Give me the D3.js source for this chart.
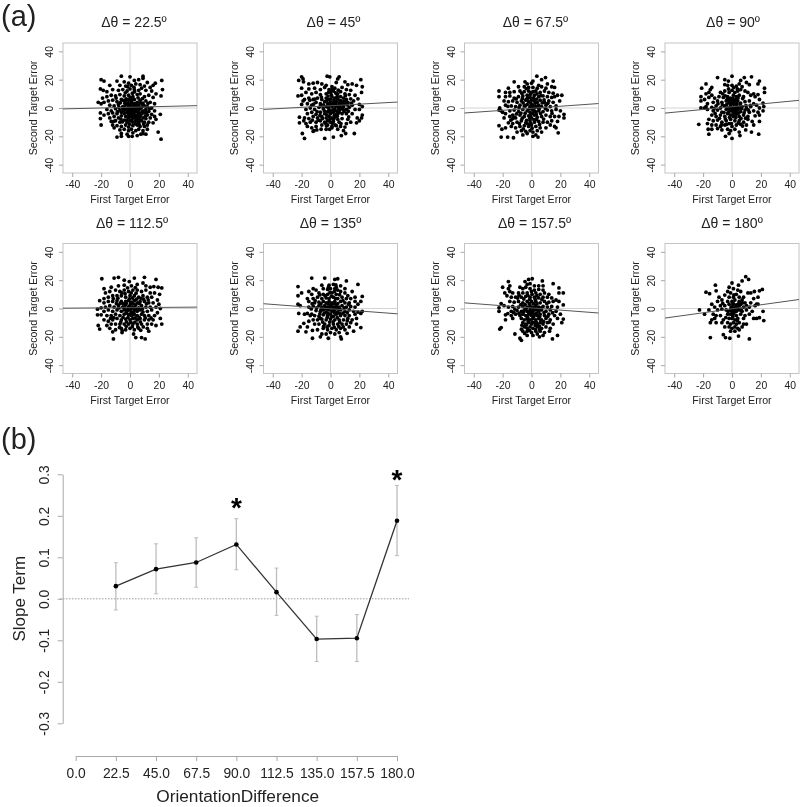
<!DOCTYPE html>
<html>
<head>
<meta charset="utf-8">
<script src="https://cdn.jsdelivr.net/npm/d3@7"></script>
<style>
  body { margin: 0; background: #fff; }
  svg { filter: blur(0.35px); }
  text { font-family: "Liberation Sans", Arial, sans-serif; fill: #222; }
</style>
</head>
<body>
<script>
// points as [first target error, second target error]
var pts225 = [[-20,20],[-18,19],[-6,22.5],[0,22],[9,22.5],[9,21],[22,19.5],[17.5,17.5],[16,16],[-20.5,13.5],[-18.5,12.5],[22.5,13],[21.5,8.5],[-22,4],[-20,3],[-18,4],[-20.5,-3.5],[-18,-5],[-20.5,-7.5],[-20,-12],[19.5,-17],[21.5,-22],[-9,-20.5],[-6,-20],[-2,-18.5],[1.5,-20],[7.5,-18.5],[11,-18.5],[21,-4.5],[18,-8],
[-9,19],[-4,18.5],[-1,17.5],[3,19.5],[6,20],[12,18],[-14,16],[-7,16],[-3,15.5],[1,16],[4,17],[7,16.5],[10,15.5],[14,14.5],[-16,11.5],[-12,13],[-8,12.5],[-5,13],[-2,12],[0,13.5],[3,13],[6,12.5],[8,14],[11,12.5],[15,12],[18,10],
[-16,8],[-13,9],[-10,8.5],[-7,9.5],[-4,8.5],[-1,9],[2,8],[5,9.5],[7,10],[10,8],[13,9],[16,7.5],[-19,7],[-15,5],[-12,5.5],[-9,4.5],[-6,6],[-3,5],[-1,5.5],[1,4.5],[3,6],[5,4],[7,5.5],[9,3.5],[11,5],[14,4],[17,3],[-14,2],[-11,1.5],[-8,2.5],[-5,1],[-3,2.5],[-1,1],[0,2.5],[2,1],[3,3],[4,1.5],[6,2],[8,0.5],[10,1.5],[12,1],[15,0],[-16,-1],[-13,-2],[-10,-0.5],[-7,-1.5],[-5,-0.5],[-3,-1],[-1,-0.5],[0,-1.5],[1,0],[2,-1],[3,-0.5],[4,-2],[5,-0.5],[6,-1.5],[7,-0.5],[9,-2],[11,-1],[13,-2.5],[17,-2],[-15,-4],[-12,-3.5],[-9,-4],[-6,-3],[-4,-4],[-2,-3],[-1,-4.5],[1,-3],[2,-4],[3,-3],[4,-5],[6,-3.5],[8,-4],[10,-3.5],[12,-5],[15,-4.5],[-14,-7],[-11,-6],[-8,-7],[-6,-5.5],[-3,-6],[-1,-7],[1,-6],[3,-7],[5,-6.5],[7,-6],[9,-7],[11,-7.5],[14,-7],[17,-6],[-13,-9.5],[-10,-9],[-7,-10],[-4,-8.5],[-2,-10],[0,-9],[2,-10],[4,-9],[6,-10],[8,-9],[10,-10],[13,-10],[16,-10.5],[-12,-12],[-9,-12.5],[-6,-13],[-3,-12],[-1,-13.5],[2,-12.5],[5,-12],[7,-13],[10,-13],[12,-12],[-11,-14],[-7,-15.5],[-4,-15],[-1,-16],[1,-15],[4,-16],[6,-15],[9,-16],[12,-15],[-6,-18],[-1,-20],[2,-17.5],[5,-19.5],[9,-18],
[0.4,7.3],[-3.6,3.4],[4.7,-2.6],[-1.8,-2.2],[2.6,2.3],[7.4,-4.7],[-6.3,-7.8],[1.3,-8.2],[-2.7,6.4],[5.6,7.2],[-0.7,-5.6],[3.3,-5.9],[8.8,2.6],[-4.4,-2.3],[6.7,-8.3],[0.8,3.6],[-7.7,0.6],[2.2,-2.7],[4.3,3.1],[-1.4,3.3],[10.6,-5.7],[-5.2,-9.7],[1.7,10.4],[-3.3,10.7],[6.2,0.7],[3.8,-11.2],[-0.3,-11.4],[9.4,-11.3],[-8.7,-2.6],[12.4,3.2],[0.2,0.7],[1.6,-1.3],[2.8,0.4],[3.6,-1.4],[-0.6,1.8],[-2.2,-0.2],[4.4,0.3],[5.3,1.3],[-1.2,-2.8],[0.6,-3.7],[-3.8,0.4],[2.4,-6.3],[4.8,-7.8],[-2.2,-8.6],[7.3,3.6],[8.3,-2.8],[-6.7,3.7],[11.3,-3.3],[-9.6,7],[3.2,11.4],[-0.8,6.2],[1.2,5.7],[5.8,-4.4],[-4.6,5.4],[13.6,-0.6],[-11.3,-9.4],[8.6,6.6],[-1.6,15],[2.8,14.6],[6.4,-11.8]];

var pts45 = [[-20,22],[-19,20.5],[-22,19.5],[-18.7,18.5],[-2.3,22.5],[-0.5,22],[6,22],[5,20.5],[21,20],[15,17],[22,15],[-20,14],[-22.5,8.5],[-20,9],[21.5,11],[19,6.5],[-20,2.5],[-21.5,-6.5],[-21.5,-10.5],[-18.5,-9],[21.5,-7],[22,-5],[18.5,-7],[18,-10.5],[-19.5,-18],[-18,-21.5],[-4,-21.5],[2,-20.5],[7.5,-19.5],[10.5,-18],[16.5,-18],[-11.5,-16],[-9.5,-15.5],[-6.5,-15],
[-15,17],[-12,17.5],[-9,18],[-6,17],[-3,16],[4,18],[10,18.5],[12,16.5],[18,16],[-15,13.5],[-11,14],[-7,13],[-4,14.5],[-1,13],[1,15],[3,14],[8,14.5],[11,13],[14,12.5],[-17,11],[-13,10],[-10,11],[-7,9.5],[-3,10],[0,11],[2,12],[5,10],[7,11.5],[10,10],[13,9.5],[17,9],[-18,6],[-15,7],[-12,6],[-9,7],[-6,6],[-3,7],[-1,6],[1,8],[3,7],[5,6.5],[7,8],[9,7],[11,6],[14,6.5],[16,5],[-19,5],[-16,3],[-13,2],[-10,4],[-7,3],[-4,4.5],[-2,3],[0,4],[2,3.5],[4,4.5],[6,3],[8,4],[10,3],[12,4],[15,2],[20,2.5],[22,1],[-17,-1],[-14,0],[-11,-1],[-8,0.5],[-5,-0.5],[-3,1],[-1,-1],[1,1],[3,-0.5],[5,1],[7,0],[9,1],[11,-1],[13,0.5],[17,-1],[20,-1],[-16,-4],[-13,-3],[-10,-4.5],[-7,-3],[-4,-4],[-2,-2.5],[0,-4],[2,-3],[4,-4.5],[6,-3],[8,-4],[11,-4],[15,-4],[-18,-7],[-15,-7.5],[-12,-6],[-9,-7],[-6,-6],[-3,-7],[-1,-6],[1,-7],[3,-6.5],[5,-8],[8,-7.5],[12,-8],[-17,-11],[-14,-10],[-10,-10],[-7,-9],[-4,-10],[-2,-9],[0,-10],[2,-9.5],[6,-10],[11,-11],[14,-10],[20,-9],[-16,-13],[-13,-14],[-10,-13],[-6,-12],[-2,-12],[1,-13],[4,-12.5],[7,-13],[10,-13.5],[-12,-16.5],[-3,-15],[1,-14],[5,-15],[9,-16],
[0.6,9.3],[-1.7,8.4],[2.4,5.3],[4.6,8.2],[6.4,5.2],[8.3,2.3],[3.2,1.6],[0.7,2.4],[-0.8,-2.7],[1.6,-1.4],[2.7,-5.2],[4.3,-2.2],[6.6,-1.3],[-4.8,2.2],[-2.3,5.4],[-5.6,-7.4],[-2.6,-4.8],[-0.4,-7.9],[2.2,-7.7],[4.7,-5.8],[7.6,2.8],[9.6,4.7],[11.7,2.2],[5.7,-0.6],[9.4,-2.4],[1.3,-10.8],[-3.4,-10.8],[-7.3,-5.3],[-9.3,-2.6],[0.3,6.3],[3.6,10.6],[-1.3,11.2],[5.4,12.6],[7.3,5.1],[10.3,8.7],[12.3,-2.3],[14.4,3.4],[-11.6,2.8],[-6.3,7.7],[-8.4,-8.6],[-4.3,-2],[1.8,3],[3.8,2.7],[6.2,1.7],[-0.4,2.4],[2.6,-1.6],[0.2,-2.2],[-1.6,0.6],[5.3,-3.7],[8.7,-0.8],[-6.7,1.6],[-12.6,-8.6],[-10.8,6.3],[0.9,13],[3.2,-12],[-0.6,-15],[12.6,-6.3],[-14.3,5.4],[-2.8,-12.6],[7.2,-11]];

var pts675 = [[3.7,22.5],[9.7,21.5],[7,20],[-12,18.5],[15,19],[-4.5,18.5],[1,19],[-22.5,12],[-22.5,8],[21,9],[19.5,5],[-22,0],[-22.5,-1.5],[22.5,-4.5],[22.5,-7],[-22.5,-12.5],[-20.5,-15],[-21,-20.5],[-16.5,-20.5],[-12.5,-21],[18.5,-17.5],[4.5,-20.5],[1,-20],[-6,-19],[17,-14],
[-3,17],[0,17.5],[5,16],[11,17],[14,15],[-16,14],[-9,15],[-5,15],[-2,14.5],[1,14.5],[4,14],[7,15],[10,14],[16,14.5],[-18,11],[-15,11],[-12,11.5],[-8,12],[-5,11.5],[-2,12],[0,11],[3,12],[6,11],[9,12],[12,11],[15,10.5],[18,9],[-18,8],[-15,8.5],[-12,7],[-9,8],[-6,8.5],[-3,9],[-1,7.5],[2,9],[5,8],[8,8.5],[11,8],[14,7.5],[16,8],[-19,5],[-16,4.5],[-13,5],[-10,4],[-7,5],[-4,5.5],[-2,4.5],[0,5.5],[2,5],[4,4],[6,5.5],[9,4],[12,5],[15,4],[-18,2],[-14,1.5],[-11,1],[-8,2],[-5,1.5],[-3,2.5],[-1,1],[1,2],[3,1],[5,2],[7,1],[10,2],[13,1],[17,1.5],[-21,-2],[-20,-3],[-18,-4],[-15,-2],[-12,-1.5],[-9,-2.5],[-6,-1],[-3,-2],[-1,-3],[1,-1.5],[3,-3],[5,-2],[8,-2.5],[11,-1.5],[14,-2],[17,-1],[20,-2],[-19,-7],[-15,-6],[-13,-5],[-12,-6.5],[-13,-7.5],[-11,-7],[-8,-5],[-5,-6],[-2,-5.5],[0,-7],[2,-5],[4,-6.5],[7,-6],[10,-5],[13,-6],[16,-6],[19,-6],[-16,-10.5],[-13,-11],[-10,-10],[-7,-9],[-4,-10.5],[-1,-9],[2,-10],[5,-9.5],[8,-10],[11,-10],[14,-9],[18,-9.5],[-18,-14],[-14,-13],[-11,-14],[-8,-13],[-5,-12.5],[-2,-13],[0,-12],[3,-13],[6,-14],[10,-14],[13,-12],[16,-13],[-10,-17],[-7,-16],[-4,-16.5],[-3,-18],[-1,-16],[1,-17],[4,-16],[7,-17],[3,-19],
[-3.3,6.4],[-0.4,3.2],[-1.7,-0.6],[0.6,-3.8],[2.3,-2.2],[-4.4,-3.7],[-2.4,7],[1.4,7.1],[3.6,6.3],[-5.8,3.6],[-7.3,-3.6],[4.6,0.4],[-1.2,-7.3],[1.7,-8.3],[3.4,-8.2],[-3.4,-8.7],[-0.6,-11],[6.3,-3.8],[2.2,0.3],[0.3,-0.4],[-6.3,6.7],[-10.4,-4.2],[8.7,5.7],[6.4,8.7],[-0.8,9.7],[1.3,11.6],[3.8,10],[-3.6,13.7],[-6.7,10.4],[-8.4,-11],[-5.7,-14.8],[0.4,-14.3],[5.6,-11.6],[8.4,-7.8],[11.3,3.3],[14.2,-3.8],[-14.3,-8.6],[-16.4,1.2],[-10.6,6.4],[-2.7,-11.2],[-4.2,1.6],[2.6,3.4],[5.3,-0.7],[0.2,1.6],[-0.7,-5.4],[3.3,-4.6],[-6.4,-7.2],[7.4,3.6],[9.6,-0.4],[-8.6,0.3]];

var pts90 = [[-10,21.5],[0,22.5],[8.5,21.5],[13.5,22],[19,19],[18,17],[-18,17],[-21,14],[22.5,14],[22.5,11],[-21.5,8],[-21.5,5],[21.5,3.5],[22,1],[-21.5,0],[21.5,-2],[-23,-11.5],[19,-9.5],[-16,-18.5],[18.5,-18.5],[13.5,-17],[0,-21.5],[-4.5,-20],[5.5,-19.5],[9.5,-15.5],[-16.5,-15],
[-5,20],[-2.5,19],[6,19.5],[10,18],[-15,13],[-14,14.5],[-5,16.5],[-3,16],[0,16],[3,15.5],[5,17],[7,15],[12,16.5],[-16,11],[-18,10],[-14,9],[-8,11],[-5,12],[-2,11],[0,12.5],[2,11],[4,12],[6,13],[9,12],[11,11],[15,10],[18,9.5],[-19,6],[-16,7.5],[-12,7],[-9,8],[-6,7.5],[-3,8],[-1,7],[1,9],[3,8],[5,9],[8,8],[13,9],[16,8],[19,6],[-17,3],[-13,4],[-10,5],[-7,4],[-4,5],[-2,4],[0,5],[2,4],[4,5],[6,3.5],[9,4.5],[12,5],[15,3],[-18,1],[-14,0.5],[-11,1.5],[-8,0],[-5,1.5],[-3,0],[-1,1.5],[1,0.5],[3,1.5],[5,0],[7,1],[10,0],[13,1],[17,2],[19,0],[-19,0],[-17,-1],[-13,-2],[-10,-1.5],[-7,-3],[-4,-1],[-2,-2.5],[0,-1],[2,-3],[4,-1],[6,-2.5],[9,-1.5],[12,-3],[15,-2],[18,-3],[-14,-5],[-11,-6],[-8,-5],[-5,-6],[-3,-4],[-1,-5],[1,-6],[3,-4.5],[5,-6],[8,-5],[11,-6],[16,-5.5],[19,-5],[-16,-8],[-13,-9],[-10,-8.5],[-7,-10],[-4,-9],[-1,-8],[2,-9],[5,-9],[8,-10],[11,-8],[14,-9.5],[-17,-11],[-14,-12],[-11,-12],[-8,-13],[-5,-12],[-2,-11],[0,-13],[3,-12],[6,-11.5],[10,-12],[15,-12],[-14,-15],[-10,-14.5],[-7,-15.5],[-3,-15],[-1,-16],[2,-15],[5,-17],[-2,-18],
[-1.6,5.7],[0.7,6.6],[2.8,6.2],[-3.6,2.6],[-0.8,2.8],[1.3,2.7],[3.4,3.2],[-2.2,-0.6],[0.6,-2.4],[2.6,-1.2],[4.6,-3.6],[-5.6,-3.2],[-1.7,-6.6],[2.6,-6.7],[-3.3,6.2],[4.2,7.1],[-6.7,2.2],[6.6,-0.4],[0.2,3.4],[-0.6,0.2],[1.6,-0.7],[3.7,0.3],[-4.6,-7.7],[6.2,-7.4],[-8.7,-7.3],[-11.7,-3.8],[9.4,-7.2],[-6.4,10],[3.7,13.4],[7.4,6.7],[9.6,1.7],[11.3,-1.4],[-2.4,13.4],[-9.7,3],[-12.4,-0.6],[-7.4,-12],[-0.4,-11],[4.4,-10.6],[0.8,-4],[-2.8,-3.4],[5.6,2.2],[1.7,5.8],[-1.3,-1.6],[3.2,-2.8],[8.4,-3.4],[-4.7,8.6],[12.7,1.8],[1.2,14.4],[-3.8,-11.6],[7.3,-12.7]];

var pts1125 = [[-19.5,21],[-11,21.5],[-8,22],[3,21.5],[10,22],[18,20.5],[-4,20],[-0.5,19],[16.5,15.5],[22,14.5],[19.5,15],[20.5,10],[-18,14],[-21,5.5],[-22.5,-0.5],[-20,0.5],[-22.5,-4.5],[-20,-4.5],[21,-7],[22,-11],[-22,-12],[-21,-14.5],[-11.5,-21.5],[4,-20.5],[8,-20.5],[10.5,-21.5],[2.5,-18],[-5.5,-17],[-12,-16.5],
[-13,15],[-8,16],[-4,16.5],[1,16],[5,17],[9,18],[11,16],[14,15],[-17,11],[-14,12],[-10,13],[-7,12],[-4,13],[-1,12],[2,13],[5,13],[8,12],[11,13],[14,11],[17,11],[-18,7],[-15,8],[-12,9],[-9,9],[-6,9],[-3,8],[0,9],[3,9],[6,8],[9,9],[12,8],[15,8],[19,6],[-18,4],[-15,5],[-12,5],[-9,5.5],[-6,5],[-3,5],[-1,5.5],[1,4.5],[3,5.5],[5,4],[7,5],[10,5],[13,4],[16,4],[20,3],[-17,1],[-14,2],[-11,1],[-8,2],[-5,1],[-3,2.5],[-1,0.5],[0,2],[2,1],[4,2.5],[6,0.5],[8,2],[11,1],[14,1],[18,1],[21,0],[-18,-2],[-15,-1],[-12,-2],[-9,-1],[-6,-2],[-4,-1],[-2,-2],[0,-1],[1,-2.5],[3,-1],[5,-2],[7,-1],[9,-2.5],[12,-2],[15,-1],[19,-3],[-16,-5],[-13,-5],[-10,-4],[-7,-5],[-4,-4],[-1,-4.5],[1,-5],[3,-4],[5,-5],[8,-4],[10,-5],[13,-5],[17,-5],[-18,-8],[-15,-9],[-12,-8],[-9,-7],[-6,-8],[-3,-7.5],[0,-8],[2,-7],[5,-8],[7,-7],[10,-8],[13,-8],[16,-8],[-16,-12],[-13,-11],[-10,-11],[-7,-11],[-4,-11],[-1,-11],[2,-11],[5,-11],[8,-11],[12,-11],[15,-11],[18,-12],[-14,-14],[-10,-15],[-6,-14],[-3,-15],[0,-14],[3,-15],[6,-14],[12,-14],[13,-16],
[-2.6,3.7],[0.4,3.4],[2.2,3.3],[-4.6,3.2],[-6.8,3.6],[-2.6,-3.3],[0.7,-3.4],[2.4,-2.8],[-4.8,-6.3],[-1.4,-6.4],[3.6,-6.7],[6.4,-6.3],[-7.6,0.4],[-9.4,3.4],[-0.4,6.8],[1.8,7.4],[4.6,6.6],[7.6,7.2],[-3.4,10.4],[0.8,11],[4.2,10.8],[-6.4,-9.6],[-2.4,-9.4],[0.6,-9.7],[3.4,-9.6],[7.2,-9.4],[10.6,-6.6],[11.4,3.3],[8.6,-0.4],[-11.3,-6.4],[-8.4,7.3],[-5.6,11],[0.3,-0.2],[1.6,0.3],[-1.8,-0.8],[3.4,0.8],[4.7,-0.6],[-3.6,0.4],[-0.7,1.4],[2.4,-4.2],[-2.6,-12.6],[1.6,-12.8],[5.4,-13],[9.2,-13],[-7.3,-13.4],[6.6,3.4],[9.4,6.6],[12.6,6],[-11.6,7],[-13.4,-7],[3.7,14.8],[-1.7,14.6],[-5.4,-15.6],[14.6,-6.7],[7.4,-15.4]];

var pts135 = [[-13,21.5],[-4,21.5],[3,20.5],[5,21],[11,19.5],[19,17],[-22.5,15.5],[-6,16.5],[-20,11],[-22.5,9],[22,8.5],[21,5],[-22.5,3],[-21,2],[-22,-3.5],[22,-2],[21,-13.5],[-22.5,-16],[-21,-13],[-18.5,-10.5],[-17,-16.5],[-12.5,-21],[-7,-20],[-1.5,-21],[7.5,-21.5],[11.5,-17.5],[16,-16],[-12.5,-15.5],
[-1,16.5],[2,17],[4,15],[7,16],[-12,14],[-10,13],[-5,14],[-2,13.5],[0,14],[3,14],[5,13],[10,14],[-15,12],[-13,10],[-8,11],[-5,10],[-2,10],[1,11],[4,10],[7,12],[10,11],[12,9],[15,12],[-16,7],[-12,7],[-9,8],[-6,7],[-3,7.5],[-1,7],[2,8],[5,7],[8,8],[11,7],[14,7],[17,8],[-15,5],[-11,4],[-8,4.5],[-5,5],[-3,4],[-1,5],[1,4],[3,5],[5,3.5],[7,5],[10,4],[13,4],[17,5],[19,3],[-15,1],[-12,1.5],[-8,2],[-6,1],[-4,2],[-2,1],[0,2],[2,1],[4,2],[6,1],[8,2],[11,1],[14,1.5],[17,1],[-18,-4],[-16,-3.5],[-13,-4],[-10,-1.5],[-7,-2],[-5,-1],[-3,-2.5],[-1,-1],[1,-2],[3,-1],[5,-2.5],[7,-1],[10,-2],[13,-1],[16,-2],[19,-2.5],[-14,-5],[-11,-5],[-8,-5.5],[-5,-4.5],[-2,-5],[0,-4],[2,-5.5],[4,-4],[7,-5],[10,-5],[13,-5],[17,-4],[21,-3.5],[-15,-9],[-12,-8],[-9,-8],[-6,-7.5],[-3,-8],[0,-7.5],[3,-8],[6,-8],[9,-8],[12,-7],[15,-8],[18,-7],[-16,-13],[-11,-11],[-8,-11],[-4,-11],[-1,-12],[2,-11],[5,-11],[8,-11],[11,-11],[14,-10],[18,-11],[-9,-15],[-5,-14],[-2,-15],[1,-14],[4,-15],[7,-14],[10,-15],[13,-13],[-6,-18],[-3,-18],[0,-17],[3,-18],[6,-17],[7,-20],
[-6.6,3.3],[-3.8,0.4],[-1.6,3.2],[0.6,3],[2.6,3.4],[4.4,0.6],[-4.4,-3.4],[-1.7,-3.4],[0.6,-6],[2.7,-3],[4.7,-6.4],[-7.4,-3.8],[-9.6,0.4],[-2.3,-6.4],[-5.4,-9.6],[-0.6,-9.6],[1.8,-9.4],[6.4,-3.6],[8.6,-3.3],[6.4,-9.6],[3.4,7.2],[0.6,8.6],[-3.8,9],[-7.4,9.6],[-10.6,5.6],[-0.4,11.3],[2.7,12],[8.6,5.6],[6.3,9.7],[-13.3,-0.3],[-4.8,-12.7],[-2.4,-13],[2.6,-13.2],[5.7,-12.7],[8.8,-13],[-7,-7],[-0.7,0.3],[1.7,-0.4],[0.7,1.4],[-2.6,-0.4],[3.6,0.2],[5.6,-0.4],[-6.4,-0.6],[9.4,0.4],[11.6,-3],[12.6,3],[-12.7,3.4],[-1.4,15],[3.7,16.6],[11.6,-8.7]];

var pts1575 = [[0.5,21],[-2,20.5],[-4.5,19],[-16,19],[7.5,19.5],[15,17.5],[-20,15],[19,14.5],[22,11],[19,11],[-18.5,11],[22,2.5],[-22.5,0.5],[-22.5,-2],[-21,3.5],[-18,-4.5],[-18,-8],[22,-7.5],[21,-10],[-21,-13.5],[-22,-14.5],[-11.5,-18],[-8,-21],[-7,-22.5],[14.5,-21.5],[18,-19],[12.5,-16],[5.5,-20],
[-3,17],[-1,17.5],[2,16],[5,16],[8,16],[-15,16],[-16,14],[-8,15],[-6,14],[-4,15],[-1,14],[2,13],[5,13.5],[8,13],[-15,12],[-13,11],[-9,11],[-6,11],[-3,11],[0,12],[3,11],[6,10],[9,11],[12,10],[-17,9],[-14,8],[-11,8],[-7,8],[-4,8.5],[-1,8],[2,8],[5,7.5],[8,8],[11,8],[14,7.5],[17,6],[-15,5],[-12,4.5],[-9,5],[-6,4],[-3,5],[0,5],[3,5],[6,4],[9,5],[12,4.5],[15,5],[19,5],[-19,2],[-16,1],[-13,1.5],[-9,1],[-6,1.5],[-3,1],[-1,2],[1,1],[3,2],[5,1],[8,1.5],[11,1],[14,1.5],[18,1],[-14,-2],[-10,-1.5],[-7,-2],[-5,-1],[-3,-2],[-1,-1],[1,-2],[3,-1],[5,-2],[7,-1],[10,-2],[13,-1],[17,-2],[-14,-5],[-11,-4],[-8,-5],[-6,-4],[-4,-5],[-2,-4],[0,-5],[2,-4],[4,-5],[6,-4],[9,-5],[12,-4],[16,-5],[20,-4],[-13,-7],[-7,-7],[-5,-8],[-3,-7],[-1,-8],[1,-7],[3,-8],[5,-7],[7,-8],[10,-7],[13,-8],[18,-7],[-6,-10],[-4,-11],[-2,-10],[0,-11],[2,-10],[4,-11],[6,-10],[8,-11],[11,-10],[15,-11],[-5,-13],[-3,-14],[-1,-13],[1,-14],[4,-13],[7,-14],[10,-13],[13,-14],[-6,-16],[-3,-16],[0,-17],[3,-16],[6,-16],[9,-17],[-3,-19],[1,-19],[4,-18],[8,-19],
[-6.6,-11.8],[-2.6,-6.3],[-0.4,-3.3],[1.6,-5.6],[3.6,-3.4],[5.7,-5.8],[-5.6,-2.7],[-2.4,-8.8],[0.4,-9.4],[3.3,-9.7],[6.4,-8.7],[-4.4,2.8],[-1.6,3.4],[1.3,3.4],[3.8,3.4],[-7.4,2.7],[-8.7,-3.4],[-3.7,-11.8],[2.6,-12],[5.4,-12.4],[8.4,-9.2],[8.7,-3],[-1.2,6.4],[2.6,6.4],[-9.6,7.4],[-5.3,6.7],[-2.6,9.3],[0.4,10],[3.7,9],[7.2,6.3],[11.3,-5.6],[-12.4,-2.8],[-7,-14.6],[-1.4,-15.4],[2.8,-15],[5.7,-14.8],[-0.6,0.4],[1.4,-0.4],[2.6,0.3],[0.2,-2.6],[-3.8,-0.4],[4.4,-0.6],[-2,-2.4],[6.4,0.3],[10.6,3.4],[-11.6,-0.4],[-16.4,-3.6],[12.4,-9.6],[-4.7,-17.6],[-8.6,9.4],[14.6,-3]];

var pts180 = [[9.5,22.5],[11.5,20.5],[0,18],[7,19.5],[4.5,16.5],[-11.5,16.5],[21,13.5],[19,12.5],[15.5,12],[-18,11.5],[-15.5,10.5],[-11,12.5],[11,11],[13,11],[-22.5,-1],[-19,-4],[21.5,-2],[22,-8.5],[19,-6.5],[-15,-20.5],[-6,-18.5],[-4.5,-20.5],[-1.5,-21],[4.5,-19.5],[12,-21.5],
[-2,15],[1,14],[4,13],[-3,12],[-1,11],[3,10],[6,12],[-9,8],[-5,9.5],[-2,8],[1,8],[5,8],[8,8],[15,7],[18,8],[-10,5],[-7,6],[-3,5],[0,5],[2,6],[5,5],[7,6],[9,4],[13,4],[17,3],[-14,3],[-12,1],[-8,2],[-5,2],[-2,3],[0,1.5],[1,3],[3,2.5],[5,2],[6,3],[8,1],[10,2],[12,1],[16,2],[18,3],[-16,-1],[-10,-1],[-7,-0.5],[-4,-1],[-1,-1],[0,-2],[1,0],[2,-1],[3,-2],[4,0],[5,-1],[7,-2],[10,-1],[14,-2],[-13,-4],[-11,-5],[-8,-5],[-3,-4],[-1,-4],[1,-3.5],[3,-5],[6,-4],[9,-5],[12,-4],[17,-7],[-14,-8],[-12,-7],[-6,-8],[-2,-7],[0,-7],[2,-8],[4,-7],[8,-7],[15,-7],[-15,-10],[-11,-10],[-7,-10],[-3,-10],[-1,-11],[1,-10],[3,-11],[5,-10],[8,-11],[10,-11],[-5,-13],[-2,-13],[0,-14],[2,-13],[4,-14],[7,-13],[-1,-16],[2,-16],[5,-15],
[0.7,3.6],[2.4,0.6],[3.6,1.3],[1.6,-2.4],[-0.6,0.7],[4.6,3.4],[6.4,-1.2],[-2.7,-2],[0.6,-5.6],[3.7,-8.6],[-4.3,-6.4],[7.3,4],[-6.4,3.6],[1.3,9.6]];

// fitted lines of the panels, in data units
var panelPoints = [pts225, pts45, pts675, pts90, pts1125, pts135, pts1575, pts180];
var panelTitles = ["22.5", "45", "67.5", "90", "112.5", "135", "157.5", "180"];
var lineSlopes = [0.025, 0.056, 0.072, 0.097, 0.008, -0.077, -0.077, 0.141];
var lineIntercepts = [0.5, 1.6, -0.2, 0.9, 0.6, -0.2, 0.4, -0.2];
var boxLefts = [63, 263.5, 464.5, 665];
var rowTops = [43, 243.5];
var titleNudge = [4, 3, 4, 1, 2, 0, 3, 0];

// lower plot
var orientation = [22.5, 45, 67.5, 90, 112.5, 135, 157.5, 180];
var slopeTerm = [0.0305, 0.0715, 0.0875, 0.131, 0.016, -0.097, -0.095, 0.188];
var slopeHigh = [0.087, 0.1325, 0.147, 0.193, 0.074, -0.042, -0.038, 0.273];
var slopeLow = [-0.027, 0.012, 0.028, 0.070, -0.040, -0.151, -0.151, 0.104];
var starred = [90, 180];
var starLevels = [0.196, 0.265];
var yTickVals = [-0.3, -0.2, -0.1, 0, 0.1, 0.2, 0.3];
var xTickVals = [0, 22.5, 45, 67.5, 90, 112.5, 135, 157.5, 180];

var axisGrey = "#a8a8a8";

var svg = d3.select("body").append("svg")
    .attr("width", 800)
    .attr("height", 807);

svg.append("text").attr("x", 1).attr("y", 26)
    .style("font-size", "29px").text("(a)");
svg.append("text").attr("x", 1).attr("y", 449)
    .style("font-size", "29px").text("(b)");

var boxW = 134, boxH = 130;

// plain hyphen on the negative labels, like the original R output
function plainInt(d) { return String(d); }
function oneDec(d) { return d.toFixed(1); }

// the 8 small panels
panelPoints.forEach(function(pts, i) {
  var col = i % 4, row = Math.floor(i / 4);
  var g = svg.append("g")
      .attr("transform", "translate(" + boxLefts[col] + "," + rowTops[row] + ")");

  var x = d3.scaleLinear().domain([-46.4, 46.4]).range([0, boxW]);
  var y = d3.scaleLinear().domain([-45.9, 45.9]).range([boxH, 0]);

  g.append("rect")
      .attr("width", boxW).attr("height", boxH)
      .attr("fill", "none").attr("stroke", "#c4c4c4");

  // zero lines
  g.append("line").attr("x1", x(0)).attr("x2", x(0)).attr("y1", 0).attr("y2", boxH)
      .attr("stroke", "#d4d4d4");
  g.append("line").attr("x1", 0).attr("x2", boxW).attr("y1", y(0)).attr("y2", y(0))
      .attr("stroke", "#d4d4d4");

  g.selectAll("circle").data(pts).enter().append("circle")
      .attr("cx", function(d) { return x(d[0]); })
      .attr("cy", function(d) { return y(d[1]); })
      .attr("r", 1.9)
      .attr("fill", "#000");

  var dom = x.domain();
  g.append("line")
      .attr("x1", x(dom[0])).attr("x2", x(dom[1]))
      .attr("y1", y(lineIntercepts[i] + lineSlopes[i] * dom[0]))
      .attr("y2", y(lineIntercepts[i] + lineSlopes[i] * dom[1]))
      .attr("stroke", "#555").attr("stroke-width", 1);

  var xAxis = g.append("g")
      .attr("transform", "translate(0," + boxH + ")")
      .call(d3.axisBottom(x).tickValues([-40, -20, 0, 20, 40]).tickSize(4).tickPadding(4).tickFormat(plainInt));
  var yAxis = g.append("g")
      .call(d3.axisLeft(y).tickValues([-40, -20, 0, 20, 40]).tickSize(4).tickFormat(plainInt));

  [xAxis, yAxis].forEach(function(a) {
    a.select(".domain").remove();
    a.selectAll("line").attr("stroke", axisGrey);
    a.selectAll("text").style("font-size", "10.4px").attr("fill", "#222");
  });
  yAxis.selectAll("text")
      .attr("transform", "translate(-10,0) rotate(-90)")
      .attr("x", 0).attr("y", 0).attr("dy", 0)
      .style("text-anchor", "middle");

  g.append("text")
      .attr("x", boxW / 2).attr("y", boxH + 30)
      .style("text-anchor", "middle").style("font-size", "10.6px")
      .text("First Target Error");
  g.append("text")
      .attr("transform", "translate(-26," + (boxH / 2) + ") rotate(-90)")
      .style("text-anchor", "middle").style("font-size", "10.6px")
      .text("Second Target Error");
  g.append("text")
      .attr("x", boxW / 2 + titleNudge[i]).attr("y", -16)
      .style("text-anchor", "middle").style("font-size", "14px")
      .text("Δθ = " + panelTitles[i] + "º");
});

// lower plot scales
var bx = d3.scaleLinear().domain([0, 180]).range([75.7, 397]);
var by = d3.scaleLinear().domain([-0.3, 0.3]).range([723.3, 474.3]);

svg.append("line")
    .attr("x1", 60).attr("x2", 409)
    .attr("y1", by(0)).attr("y2", by(0))
    .attr("stroke", "#999").attr("stroke-dasharray", "1.5,1.5");

var xAxisB = svg.append("g")
    .attr("transform", "translate(0,756)")
    .call(d3.axisBottom(bx).tickValues(xTickVals).tickSize(5).tickSizeOuter(0).tickPadding(7).tickFormat(oneDec));
var yAxisB = svg.append("g")
    .attr("transform", "translate(62.7,0)")
    .call(d3.axisLeft(by).tickValues(yTickVals).tickSize(5).tickSizeOuter(0).tickFormat(oneDec));

[xAxisB, yAxisB].forEach(function(a) {
  a.select(".domain").attr("stroke", axisGrey);
  a.selectAll("line").attr("stroke", axisGrey);
  a.selectAll("text").style("font-size", "13.8px").attr("fill", "#222");
});
yAxisB.selectAll("text")
    .attr("transform", "translate(-14,0) rotate(-90)")
    .attr("x", 0).attr("y", 0).attr("dy", 0)
    .style("text-anchor", "middle");

// error bars
var bars = svg.append("g");
orientation.forEach(function(o, i) {
  bars.append("line")
      .attr("x1", bx(o)).attr("x2", bx(o))
      .attr("y1", by(slopeLow[i])).attr("y2", by(slopeHigh[i]))
      .attr("stroke", "#bdbdbd").attr("stroke-width", 1.3);
  [slopeLow[i], slopeHigh[i]].forEach(function(v) {
    bars.append("line")
        .attr("x1", bx(o) - 2).attr("x2", bx(o) + 2)
        .attr("y1", by(v)).attr("y2", by(v))
        .attr("stroke", "#bdbdbd");
  });
});

var line = d3.line()
    .x(function(d, i) { return bx(orientation[i]); })
    .y(function(d) { return by(d); });

svg.append("path").datum(slopeTerm)
    .attr("d", line)
    .attr("fill", "none").attr("stroke", "#333").attr("stroke-width", 1.3);

svg.selectAll(".mean").data(slopeTerm).enter().append("circle")
    .attr("class", "mean")
    .attr("cx", function(d, i) { return bx(orientation[i]); })
    .attr("cy", function(d) { return by(d); })
    .attr("r", 2.3)
    .attr("fill", "#000");

starred.forEach(function(o, i) {
  svg.append("text")
      .attr("x", bx(o))
      .attr("y", by(starLevels[i]))
      .style("text-anchor", "middle")
      .style("font-size", "28px")
      .style("font-weight", "bold")
      .style("fill", "#000")
      .text("*");
});

svg.append("text")
    .attr("x", 237.7).attr("y", 802)
    .style("text-anchor", "middle").style("font-size", "17.3px")
    .text("OrientationDifference");
svg.append("text")
    .attr("transform", "translate(24.5,598.7) rotate(-90)")
    .style("text-anchor", "middle").style("font-size", "17px")
    .text("Slope Term");
</script>
</body>
</html>
